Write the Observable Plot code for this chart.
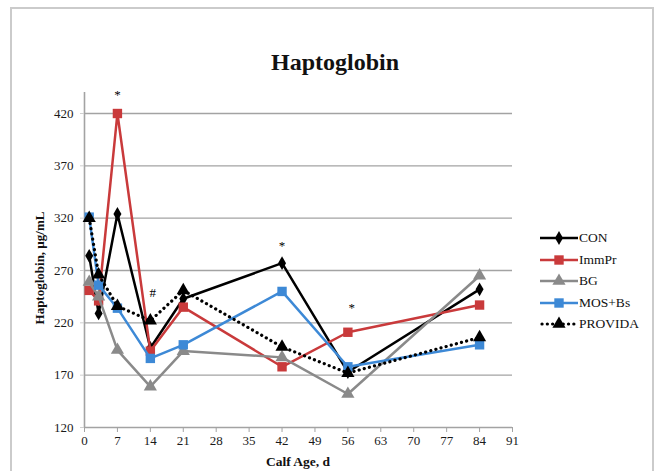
<!DOCTYPE html>
<html><head><meta charset="utf-8">
<script src="https://cdn.jsdelivr.net/npm/d3@7"></script>
<script src="https://cdn.jsdelivr.net/npm/@observablehq/plot@0.6"></script>
<style>
body{margin:0;background:#fff;}
#wrap{position:relative;width:664px;height:471px;overflow:hidden;font-family:"Liberation Serif","Times New Roman",serif;color:#111;}
#frame{position:absolute;left:10px;top:7px;width:644px;height:520px;border:2px solid #cbcbcb;box-sizing:border-box;}
#chart{position:absolute;left:0;top:0;}
#title{position:absolute;left:185px;width:300px;top:48px;text-align:center;font-weight:bold;font-size:24px;line-height:28px;}
#ylab{position:absolute;left:40px;top:268px;transform:translate(-50%,-50%) rotate(-90deg);white-space:nowrap;font-weight:bold;font-size:13px;}
#xlab{position:absolute;left:198px;width:200px;top:454px;text-align:center;font-weight:bold;font-size:13.5px;line-height:16px;}
#legend{position:absolute;left:540px;top:0;}
.row{position:absolute;left:0;height:16px;display:flex;align-items:center;white-space:nowrap;font-size:13.5px;font-family:"Liberation Serif","Times New Roman",serif;}
.row span{margin-left:1px;font-family:"Liberation Serif","Times New Roman",serif;}
</style>
</head><body>
<div id="wrap">
  <div id="frame"></div>
  <div id="chart"></div>
  <div id="title">Haptoglobin</div>
  <div id="ylab">Haptoglobin, µg/mL</div>
  <div id="xlab">Calf Age, d</div>
  <div id="legend"></div>
</div>
<script>
// ---- data ----
const days = [1, 3, 7, 14, 21, 42, 56, 84];
const seriesNames = ["CON", "ImmPr", "BG", "MOS+Bs", "PROVIDA"];
const CON     = [284, 229, 324, 196, 243, 277, 173, 252];
const ImmPr   = [251, 241, 420, 193, 235, 178, 211, 237];
const BG      = [259, 245, 194, 159, 193, 187, 152, 265];
const MOSBs   = [321, 256, 234, 186, 199, 250, 178, 199];
const PROVIDA = [320, 266, 236, 222, 251, 197, 172, 206];
const xTicks = [0, 7, 14, 21, 28, 35, 42, 49, 56, 63, 70, 77, 84, 91];
const yTicks = [120, 170, 220, 270, 320, 370, 420];
const yAxisTop = 440;
// significance markers
const sigDays   = [7, 14.5, 42, 56.8];
const sigY      = [438, 249, 294, 234];
const sigLabels = ["*", "#", "*", "*"];

// ---- styles ----
const seriesValues = [CON, ImmPr, BG, MOSBs, PROVIDA];
const colors  = ["#000000", "#c93a3b", "#8a8a8a", "#3d89d6", "#000000"];
const symbols = ["diamond", "square", "triangle", "square", "triangle"];
const radii   = [4.2, 5.3, 4.9, 5.3, 4.9];
const dashes  = [null, null, null, null, "0.1,5.2"];

const data = seriesNames.flatMap((s, i) => days.map((d, j) => ({series: s, day: d, value: seriesValues[i][j]})));
const sig = sigDays.map((d, i) => ({day: d, y: sigY[i], label: sigLabels[i]}));

const seriesMarks = seriesNames.flatMap((s, i) => {
  const sub = data.filter(d => d.series === s);
  return [
    Plot.line(sub, {x: "day", y: "value", stroke: colors[i], strokeWidth: dashes[i] ? 3.2 : 2.5,
      strokeDasharray: dashes[i] || undefined, strokeLinecap: dashes[i] ? "round" : "butt"}),
    Plot.dot(sub, {x: "day", y: "value", symbol: symbols[i], r: radii[i], fill: colors[i], stroke: "none"})
  ];
});

const chart = Plot.plot({
  width: 664, height: 471,
  marginLeft: 84, marginRight: 152, marginTop: 113, marginBottom: 44,
  x: {domain: [0, 91]},
  y: {domain: [120, 420]},
  style: {fontFamily: "'Liberation Serif','Times New Roman',serif", fontSize: "13px", color: "#1a1a1a", background: "transparent", overflow: "visible"},
  marks: [
    Plot.gridY(yTicks.filter(v => v > 120), {stroke: "#a3a3a3", strokeOpacity: 1, strokeWidth: 1.4}),
    Plot.ruleY([120], {stroke: "#a3a3a3", strokeWidth: 1.6}),
    Plot.ruleX([0], {y1: 120, y2: yAxisTop, stroke: "#a3a3a3", strokeWidth: 1.6}),
    Plot.axisX({ticks: xTicks, tickSize: 5, tickPadding: 3, label: null, stroke: "#a3a3a3", tickFormat: d => d}),
    Plot.axisY({ticks: yTicks, tickSize: 4, tickPadding: 7, label: null, stroke: "#d0d0d0", tickFormat: d => d}),
    ...seriesMarks,
    Plot.text(sig, {x: "day", y: "y", text: "label", fontSize: 13, fill: "#000"})
  ]
});
document.getElementById("chart").appendChild(chart);

// ---- legend ----
const legend = document.getElementById("legend");
const rowY = [238, 259.5, 281, 302.5, 324];
seriesNames.forEach((s, i) => {
  const symType = {diamond: d3.symbolDiamond, square: d3.symbolSquare, triangle: d3.symbolTriangle}[symbols[i]];
  const path = d3.symbol(symType, radii[i] * radii[i] * Math.PI)();
  const dash = dashes[i] ? `stroke-dasharray="${dashes[i]}" stroke-linecap="round"` : "";
  const sw = dashes[i] ? 3.2 : 2.5;
  const row = document.createElement("div");
  row.className = "row";
  row.style.top = (rowY[i] - 8) + "px";
  row.innerHTML = `<svg width="38" height="16"><line x1="${dashes[i] ? 2 : 0}" x2="${dashes[i] ? 36 : 38}" y1="8" y2="8" stroke="${colors[i]}" stroke-width="${sw}" ${dash}/><path transform="translate(19,8)" d="${path}" fill="${colors[i]}"/></svg><span>${s}</span>`;
  legend.appendChild(row);
});
</script>
</body></html>
